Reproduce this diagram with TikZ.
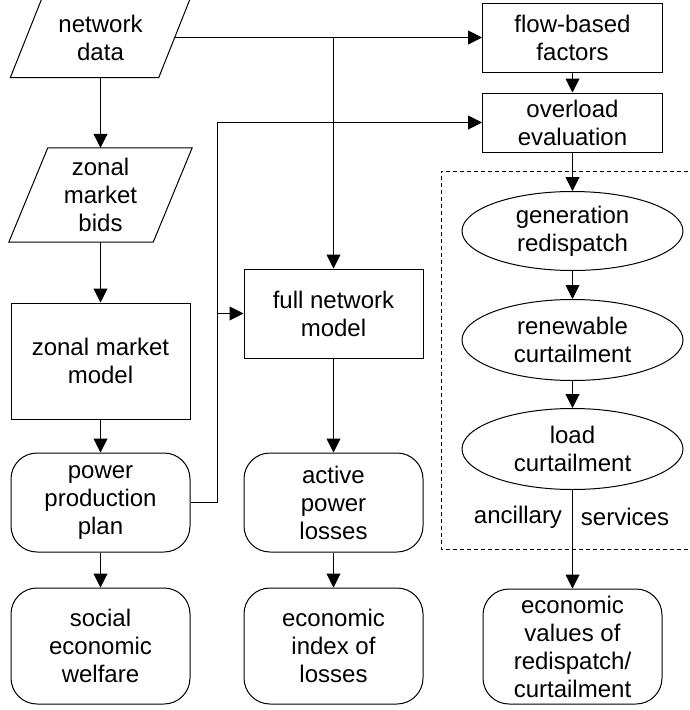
\documentclass[tikz,border=0pt]{standalone}
\usepackage{fontspec}
\setmainfont{Liberation Sans}
\usetikzlibrary{arrows.meta,shapes.geometric,calc}
\begin{document}
\begin{tikzpicture}[x=1pt,y=-1pt,
  every node/.style={font=\fontsize{24}{28}\selectfont, align=center, inner sep=0pt},
  line/.style={line width=1pt},
  arr/.style={line width=1pt, -{Triangle[length=14pt,width=14pt]}},
  para/.style={draw=none, minimum width=#1},
  rectbox/.style={draw, line width=1pt, minimum width=179pt},
  roundbox/.style={draw, line width=1pt, rounded corners=26pt, minimum width=179pt},
  ellbox/.style={draw, line width=1pt, ellipse, minimum width=221pt},
  dashbox/.style={line width=1pt, dash pattern=on 4pt off 3pt}]
\useasboundingbox (0,0) rectangle (689,710);

% left column
\node[para=180pt, minimum height=80pt] (nd) at (100.5,37.5) {network\\data};
\draw[line] (nd.south west) -- ($(nd.south east)+(-32,0)$) -- (nd.north east) -- ($(nd.north west)+(32,0)$) -- cycle;
\node[para=183pt, minimum height=94pt] (zb) at (100.5,195) {zonal\\market\\bids};
\draw[line] (zb.south west) -- ($(zb.south east)+(-39,0)$) -- (zb.north east) -- ($(zb.north west)+(39,0)$) -- cycle;
\node[rectbox, minimum height=116pt] (zm) at (100.5,361) {zonal market\\model};
\node[roundbox, minimum height=99pt] (pp) at (100.5,502.5) {power\\production\\plan};
\node[roundbox, minimum height=116pt] (sw) at (100.5,646) {social\\economic\\welfare};

% middle column
\node[rectbox, minimum height=89pt] (fn) at (333.5,313.5) {full network\\model};
\node[roundbox, minimum height=99pt] (al) at (333.5,502.5) {active\\power\\losses};
\node[roundbox, minimum height=116pt] (ei) at (333.5,646) {economic\\index of\\losses};

% right column
\node[rectbox, minimum width=180pt, minimum height=69pt] (ff) at (572.5,37.5) {flow-based\\factors};
\node[rectbox, minimum width=180pt, minimum height=59pt] (oe) at (572.5,122.5) {overload\\evaluation};
\node[ellbox, minimum height=79pt] (gr) at (572.5,231) {generation\\redispatch};
\node[ellbox, minimum height=81pt] (rc) at (572.5,340) {renewable\\curtailment};
\node[ellbox, minimum height=81pt] (lc) at (572.5,449) {load\\curtailment};
\node[roundbox, minimum height=115pt] (ev) at (572.5,646.5) {economic\\values of\\redispatch/\\curtailment};
\node (anc) at (518,517) {ancillary};
\node (srv) at (625,517) {services};

% dashed group
\draw[dashbox] (695,171) -- (441,171) -- (441,549) -- (695,549);

% connectors
\draw[arr] (nd.south) -- (zb.north);
\draw[arr] (zb.south) -- (zm.north);
\draw[arr] (zm.south) -- (pp.north);
\draw[arr] (pp.south) -- (sw.north);
\draw[arr] ($(nd.east)+(-16,0)$) -- (ff.west);
\coordinate (j1) at (fn.north |- nd.east);
\draw[arr] (j1) -- (fn.north);
\coordinate (k) at ($(pp.east)+(27,0)$);
\draw[arr] (pp.east) -- (k) |- (oe.west);
\draw[arr] (k |- fn.west) -- (fn.west);
\draw[arr] (fn.south) -- (al.north);
\draw[arr] (al.south) -- (ei.north);
\draw[arr] (ff.south) -- (oe.north);
\draw[arr] (oe.south) -- (gr.north);
\draw[arr] (gr.south) -- (rc.north);
\draw[arr] (rc.south) -- (lc.north);
\draw[arr] (lc.south) -- (ev.north);
\end{tikzpicture}
\end{document}
